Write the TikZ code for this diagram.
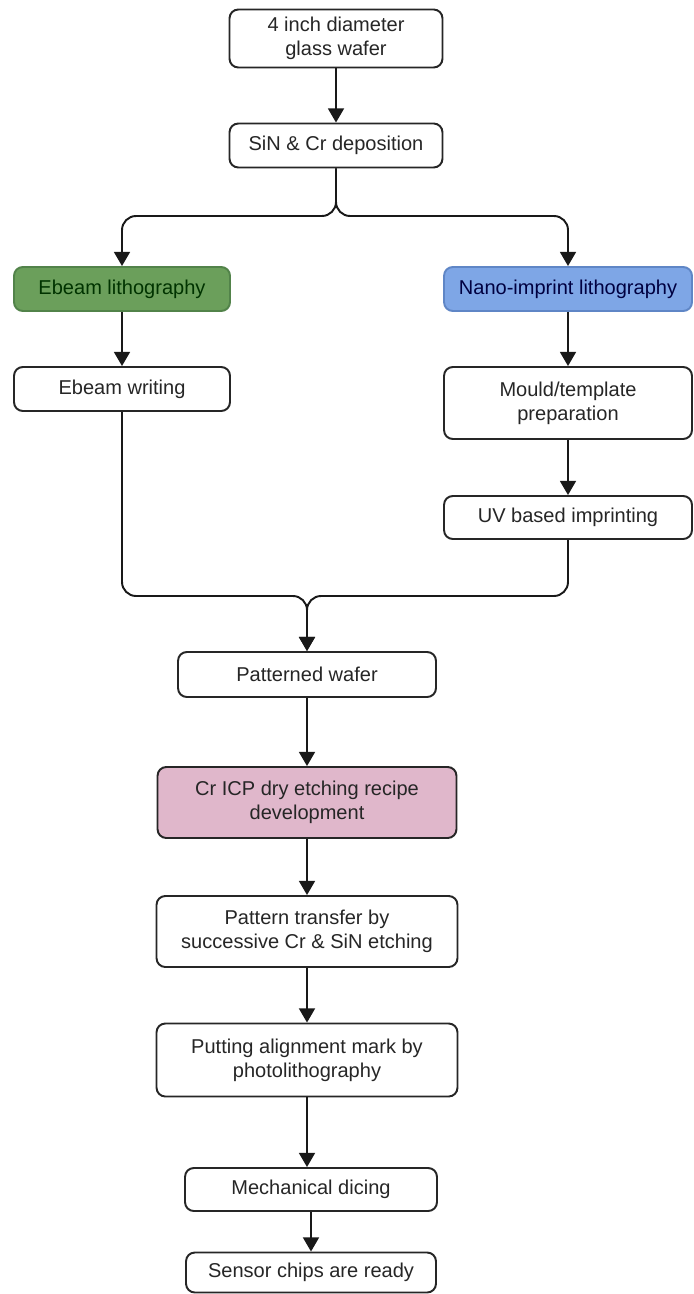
\documentclass[tikz,border=0pt]{standalone}
\usepackage{fontspec}
\setmainfont{Liberation Sans}
\usetikzlibrary{positioning,arrows.meta,calc}
\definecolor{ebgreen}{HTML}{6B9F5B}
\definecolor{ebgreendark}{HTML}{52834A}
\definecolor{nilblue}{HTML}{7EA6E6}
\definecolor{nilbluedark}{HTML}{5F86C6}
\definecolor{icppink}{HTML}{E0B7CB}

\begin{document}
\begin{tikzpicture}[
x=0.02cm, y=-0.02cm,
stepbox/.style={
  draw=black!85,
  line width=1.1pt,
  rounded corners=5pt,
  fill=white,
  align=center,
  text=black!85,
  inner sep=2pt,
  font=\fontsize{11.4}{13.8}\selectfont},
flow/.style={
  draw=black!90,
  line width=1.1pt,
  -{Triangle[length=8pt,width=9pt]}}
]
\useasboundingbox (0,0) rectangle (693,1294);

\node[stepbox, minimum width=4.26cm, minimum height=1.16cm] (wafer) at (336,38.5) {4 inch diameter\\glass wafer};
\node[stepbox, minimum width=4.26cm, minimum height=0.88cm] (depo) at (336,145.5) {SiN \& Cr deposition};
\node[stepbox, minimum width=4.32cm, minimum height=0.88cm, fill=ebgreen, draw=ebgreendark, text=black!80!green] (ebl) at (122,289) {Ebeam lithography};
\node[stepbox, minimum width=4.96cm, minimum height=0.88cm, fill=nilblue, draw=nilbluedark, text=black!75!blue] (nil) at (568,289) {Nano-imprint lithography};
\node[stepbox, minimum width=4.32cm, minimum height=0.88cm] (ebw) at (122,389) {Ebeam writing};
\node[stepbox, minimum width=4.96cm, minimum height=1.44cm] (mould) at (568,403) {Mould/template\\preparation};
\node[stepbox, minimum width=4.96cm, minimum height=0.86cm] (uv) at (568,517.5) {UV based imprinting};
\node[stepbox, minimum width=5.16cm, minimum height=0.9cm] (patt) at (307,674.5) {Patterned wafer};
\node[stepbox, minimum width=5.98cm, minimum height=1.42cm, fill=icppink] (icp) at (307,802.5) {Cr ICP dry etching recipe\\development};
\node[stepbox, minimum width=6.02cm, minimum height=1.42cm] (transfer) at (307,931.5) {Pattern transfer by\\successive Cr \& SiN etching};
\node[stepbox, minimum width=6.02cm, minimum height=1.46cm] (align) at (307,1060) {Putting alignment mark by\\photolithography};
\node[stepbox, minimum width=5.04cm, minimum height=0.86cm] (dicing) at (311,1189.5) {Mechanical dicing};
\node[stepbox, minimum width=5.0cm, minimum height=0.8cm] (ready) at (311,1272.5) {Sensor chips are ready};

\coordinate (split) at (336,216);
\coordinate (merge) at (307,596);

% branch and join
\draw[flow, rounded corners=8pt] (depo.south) -- (split) -| (ebl.north);
\draw[flow, rounded corners=8pt] (depo.south) -- (split) -| (nil.north);
\draw[flow, rounded corners=8pt] (ebw.south) |- (merge) -- (patt.north);
\draw[flow, rounded corners=8pt] (uv.south) |- (merge) -- (patt.north);

\foreach \a/\b in {wafer/depo, ebl/ebw, nil/mould, mould/uv, patt/icp, icp/transfer, transfer/align, align/dicing, dicing/ready}
  \draw[flow] (\a.south) -- (\a.south |- \b.north);
\end{tikzpicture}
\end{document}
